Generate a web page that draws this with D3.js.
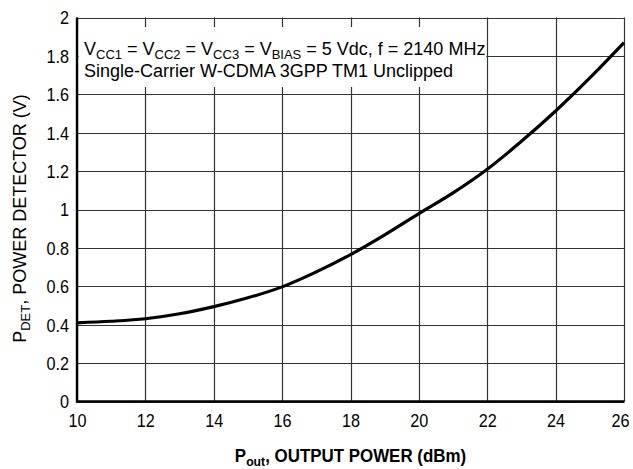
<!DOCTYPE html>
<html><head><meta charset="utf-8">
<script src="https://cdn.jsdelivr.net/npm/d3@7"></script>
<style>
body{margin:0;background:#fff;}
text{font-family:"Liberation Sans Narrow","Arial Narrow","Liberation Sans",Arial,sans-serif;fill:#000;}
</style></head>
<body><svg id="c" width="633" height="469"></svg>
<script>
const xTicks = [10,12,14,16,18,20,22,24,26];
const yTicks = [0,0.2,0.4,0.6,0.8,1,1.2,1.4,1.6,1.8,2];
const pout = [10,11,12,13,14,15,16,17,18,19,20,21,22,23,24,25,26];
const pdet = [0.410,0.418,0.431,0.457,0.494,0.540,0.597,0.675,0.765,0.868,0.979,1.087,1.210,1.355,1.513,1.685,1.869];

const svg = d3.select("#c");
const m = {l:77,r:624,t:17.5,b:401.5};
const x = d3.scaleLinear().domain([10,26]).range([m.l,m.r]);
const y = d3.scaleLinear().domain([0,2]).range([m.b,m.t]);

const g = svg.append("g");
// grid
g.selectAll(".vg").data(xTicks).enter().append("line")
 .attr("x1",d=>Math.round(x(d))+0.5).attr("x2",d=>Math.round(x(d))+0.5)
 .attr("y1",m.t).attr("y2",m.b).attr("stroke","#333").attr("stroke-width",1.2);
g.selectAll(".hg").data(yTicks).enter().append("line")
 .attr("y1",d=>Math.round(y(d))+0.5).attr("y2",d=>Math.round(y(d))+0.5)
 .attr("x1",m.l).attr("x2",m.r).attr("stroke","#333").attr("stroke-width",1.2);

// annotation box
g.append("rect").attr("x",m.l+1.5).attr("y",27).attr("width",x(22)-m.l-2.5).attr("height",60).attr("fill","#fff");

// axes
g.append("line").attr("x1",m.l).attr("x2",m.l).attr("y1",m.t).attr("y2",m.b+1).attr("stroke","#000").attr("stroke-width",2.4);
g.append("line").attr("x1",m.l-1).attr("x2",m.r+0.5).attr("y1",m.b).attr("y2",m.b).attr("stroke","#000").attr("stroke-width",2.4);

// tick labels
const xa = d3.axisBottom(x).tickValues(xTicks).tickSize(0).tickPadding(0).tickFormat(d3.format("d"));
const xg = svg.append("g").attr("transform",`translate(0,${m.b})`).call(xa);
xg.select(".domain").remove();
xg.selectAll("text").attr("y",26).attr("dy",null).attr("font-size","18px").attr("fill","#000")
  .attr("transform",d=>d===26?"translate(-4,0) scale(0.9,1)":"scale(0.9,1)");

const ya = d3.axisLeft(y).tickValues(yTicks).tickSize(0).tickPadding(0).tickFormat(d=>String(d));
const yg = svg.append("g").attr("transform",`translate(${m.l},0)`).call(ya);
yg.select(".domain").remove();
yg.selectAll("text").attr("x",-9).attr("dy","0.36em").attr("font-size","18px").attr("fill","#000")
  .attr("transform","scale(0.9,1)");

// curve
const line = d3.line().x((d,i)=>x(pout[i])).y(d=>y(d)).curve(d3.curveMonotoneX);
g.append("path").attr("d",line(pdet)).attr("fill","none").attr("stroke","#000").attr("stroke-width",3.2);

// annotation text
const t1 = svg.append("text").attr("x",84).attr("y",55).attr("font-size","18px");
const parts = [["V",0],["CC1",1],[" = V",0],["CC2",1],[" = V",0],["CC3",1],[" = V",0],["BIAS",1],[" = 5 Vdc, f = 2140 MHz",0]];
parts.forEach((p,i)=>{
  const ts = t1.append("tspan").text(p[0]);
  if(p[1]) ts.attr("font-size","13px").attr("dy",4);
  else if(i>0) ts.attr("dy",-4);
});
svg.append("text").attr("x",84).attr("y",77).attr("font-size","18px").text("Single-Carrier W-CDMA 3GPP TM1 Unclipped");

// axis titles
const xt = svg.append("text").attr("transform",`translate(${(m.l+m.r)/2},462) scale(0.94,1)`).attr("text-anchor","middle").attr("font-size","18px").attr("font-weight","bold");
xt.append("tspan").text("P");
xt.append("tspan").text("out").attr("font-size","13px").attr("dy",4);
xt.append("tspan").text(", OUTPUT POWER (dBm)").attr("dy",-4);

const yt = svg.append("text").attr("transform",`translate(26,${(m.t+m.b)/2+9}) rotate(-90)`).attr("text-anchor","middle").attr("font-size","18px");
yt.append("tspan").text("P");
yt.append("tspan").text("DET").attr("font-size","13px").attr("dy",4);
yt.append("tspan").text(", POWER DETECTOR (V)").attr("dy",-4);
</script></body></html>
